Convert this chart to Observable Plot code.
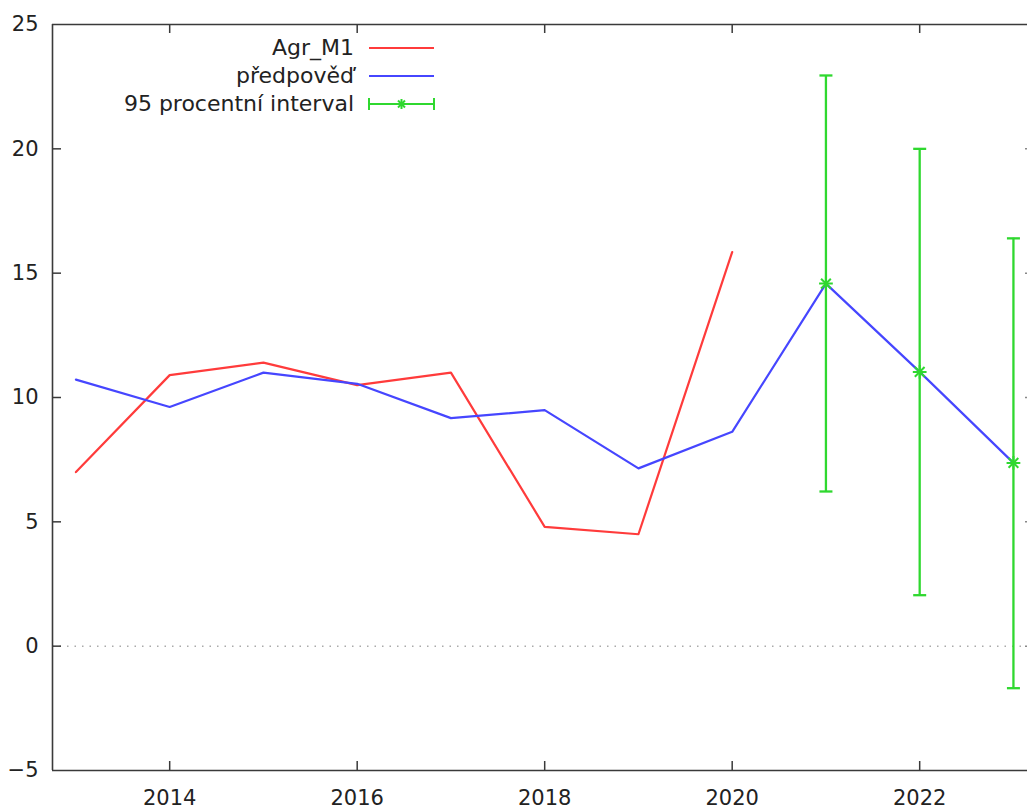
<!DOCTYPE html>
<html>
<head>
<meta charset="utf-8">
<script src="https://cdn.jsdelivr.net/npm/d3@7"></script>
<script src="https://cdn.jsdelivr.net/npm/@observablehq/plot@0.6"></script>
<style>
  html, body { margin: 0; padding: 0; background: #fff; overflow: hidden; }
  #wrap { position: relative; width: 1027px; height: 810px; font-family: "DejaVu Sans", sans-serif; }
  #legend { position: absolute; left: 0; top: 0; font-size: 22px; color: #222; }
  .row { position: absolute; height: 28px; display: flex; align-items: center; }
  .lab { position: absolute; right: 0; white-space: nowrap; }
</style>
</head>
<body>
<div id="wrap"><div id="legend"></div></div>
<script>
// ---- data ----
const actualYears = [2013, 2014, 2015, 2016, 2017, 2018, 2019, 2020];
const actualValues = [7.0, 10.9, 11.4, 10.5, 11.0, 4.8, 4.5, 15.85];
const forecastYears = [2013, 2014, 2015, 2016, 2017, 2018, 2019, 2020, 2021, 2022, 2023];
const forecastValues = [10.72, 9.62, 11.0, 10.55, 9.17, 9.49, 7.15, 8.62, 14.58, 11.03, 7.37];
const intervalYears = [2021, 2022, 2023];
const intervalLow = [6.22, 2.05, -1.69];
const intervalHigh = [22.95, 20.0, 16.4];
const xTicks = [2014, 2016, 2018, 2020, 2022];
const yTicks = [-5, 0, 5, 10, 15, 20, 25];
const xDomain = [2012.75, 2023.15];
const yDomain = [-5, 25];
const seriesNames = ["Agr_M1", "předpověď", "95 procentní interval"];

// ---- styles ----
const RED = "#ff3b3b", BLUE = "#4646ff", GREEN = "#2fd82f", AXIS = "#3a3a3a";

const actual = actualYears.map((y, i) => ({year: y, value: actualValues[i]}));
const forecast = forecastYears.map((y, i) => ({year: y, value: forecastValues[i]}));
const intervals = intervalYears.map((y, i) => ({year: y, lo: intervalLow[i], hi: intervalHigh[i], mid: forecastValues[forecastYears.indexOf(y)]}));

const capSymbol = {draw(ctx, size) { const r = Math.sqrt(size / Math.PI); ctx.moveTo(-r, 0); ctx.lineTo(r, 0); }};

const W = 1027, H = 810, mT = 24, mB = 40, mL = 52, mR = 0;
const frameH = H - mT - mB, frameW = W - mL - mR;

const chart = Plot.plot({
  width: W, height: H,
  marginTop: mT, marginBottom: mB, marginLeft: mL, marginRight: mR,
  style: {fontFamily: "DejaVu Sans, sans-serif", fontSize: "21px", color: "#222", background: "#fff"},
  x: {domain: xDomain, ticks: xTicks, tickFormat: d => String(d), label: null},
  y: {domain: yDomain, ticks: yTicks, label: null},
  marks: [
    Plot.ruleY([0], {stroke: "#aaa", strokeWidth: 1.5, strokeDasharray: "1.5,6"}),
    // frame (left, top, bottom; right border lies beyond the crop)
    Plot.ruleX([xDomain[0]], {stroke: AXIS, strokeWidth: 1.6}),
    Plot.ruleY([yDomain[0], yDomain[1]], {stroke: AXIS, strokeWidth: 1.6}),
    // inward ticks
    Plot.tickX(xTicks, {x: d => d, stroke: AXIS, strokeWidth: 1.5, insetTop: frameH - 9}),
    Plot.tickX(xTicks, {x: d => d, stroke: AXIS, strokeWidth: 1.5, insetBottom: frameH - 9}),
    Plot.tickY(yTicks.slice(1, -1), {y: d => d, stroke: AXIS, strokeWidth: 1.5, insetRight: frameW - 9}),
    Plot.tickY(yTicks.slice(1, -1), {y: d => d, stroke: "#888", strokeWidth: 1.5, insetLeft: frameW - 2}),
    Plot.axisX({ticks: xTicks, tickSize: 0, tickPadding: 20, tickFormat: d => String(d), fill: "#222", label: null}),
    Plot.axisY({ticks: yTicks, tickSize: 0, tickPadding: 14, fill: "#222", label: null}),
    // series
    Plot.line(actual, {x: "year", y: "value", stroke: RED, strokeWidth: 2.2}),
    Plot.line(forecast, {x: "year", y: "value", stroke: BLUE, strokeWidth: 2.2}),
    Plot.ruleX(intervals, {x: "year", y1: "lo", y2: "hi", stroke: GREEN, strokeWidth: 2.3}),
    Plot.dot(intervals, {x: "year", y: "lo", symbol: capSymbol, r: 6.5, stroke: GREEN, strokeWidth: 2.3, fill: "none"}),
    Plot.dot(intervals, {x: "year", y: "hi", symbol: capSymbol, r: 6.5, stroke: GREEN, strokeWidth: 2.3, fill: "none"}),
    Plot.dot(intervals, {x: "year", y: "mid", symbol: "plus", r: 4.5, stroke: GREEN, strokeWidth: 2}),
    Plot.dot(intervals, {x: "year", y: "mid", symbol: "times", r: 4.5, stroke: GREEN, strokeWidth: 2})
  ]
});
document.getElementById("wrap").prepend(chart);

// ---- legend (inside plot area, top-left) ----
const legend = document.getElementById("legend");
const rows = [
  {name: seriesNames[0], color: RED, type: "line"},
  {name: seriesNames[1], color: BLUE, type: "line"},
  {name: seriesNames[2], color: GREEN, type: "err"}
];
rows.forEach((r, i) => {
  const cy = 47.5 + i * 28;
  const lab = document.createElement("div");
  lab.className = "row";
  lab.style.top = (cy - 14) + "px";
  lab.style.left = "0px";
  lab.style.width = "354px";
  const t = document.createElement("span");
  t.className = "lab";
  t.textContent = r.name;
  lab.appendChild(t);
  legend.appendChild(lab);
  const ns = "http://www.w3.org/2000/svg";
  const s = document.createElementNS(ns, "svg");
  s.setAttribute("width", 70); s.setAttribute("height", 20);
  s.style.position = "absolute"; s.style.left = "367px"; s.style.top = (cy - 10) + "px";
  const add = (x1, y1, x2, y2) => {
    const l = document.createElementNS(ns, "line");
    l.setAttribute("x1", x1); l.setAttribute("y1", y1); l.setAttribute("x2", x2); l.setAttribute("y2", y2);
    l.setAttribute("stroke", r.color); l.setAttribute("stroke-width", 2);
    s.appendChild(l);
  };
  add(2, 10, 67, 10);
  if (r.type === "err") {
    add(2, 4, 2, 16); add(67, 4, 67, 16);
    add(34.5, 5, 34.5, 15); add(29.5, 10, 39.5, 10);
    add(31, 6.5, 38, 13.5); add(31, 13.5, 38, 6.5);
  }
  legend.appendChild(s);
});
</script>
</body>
</html>
